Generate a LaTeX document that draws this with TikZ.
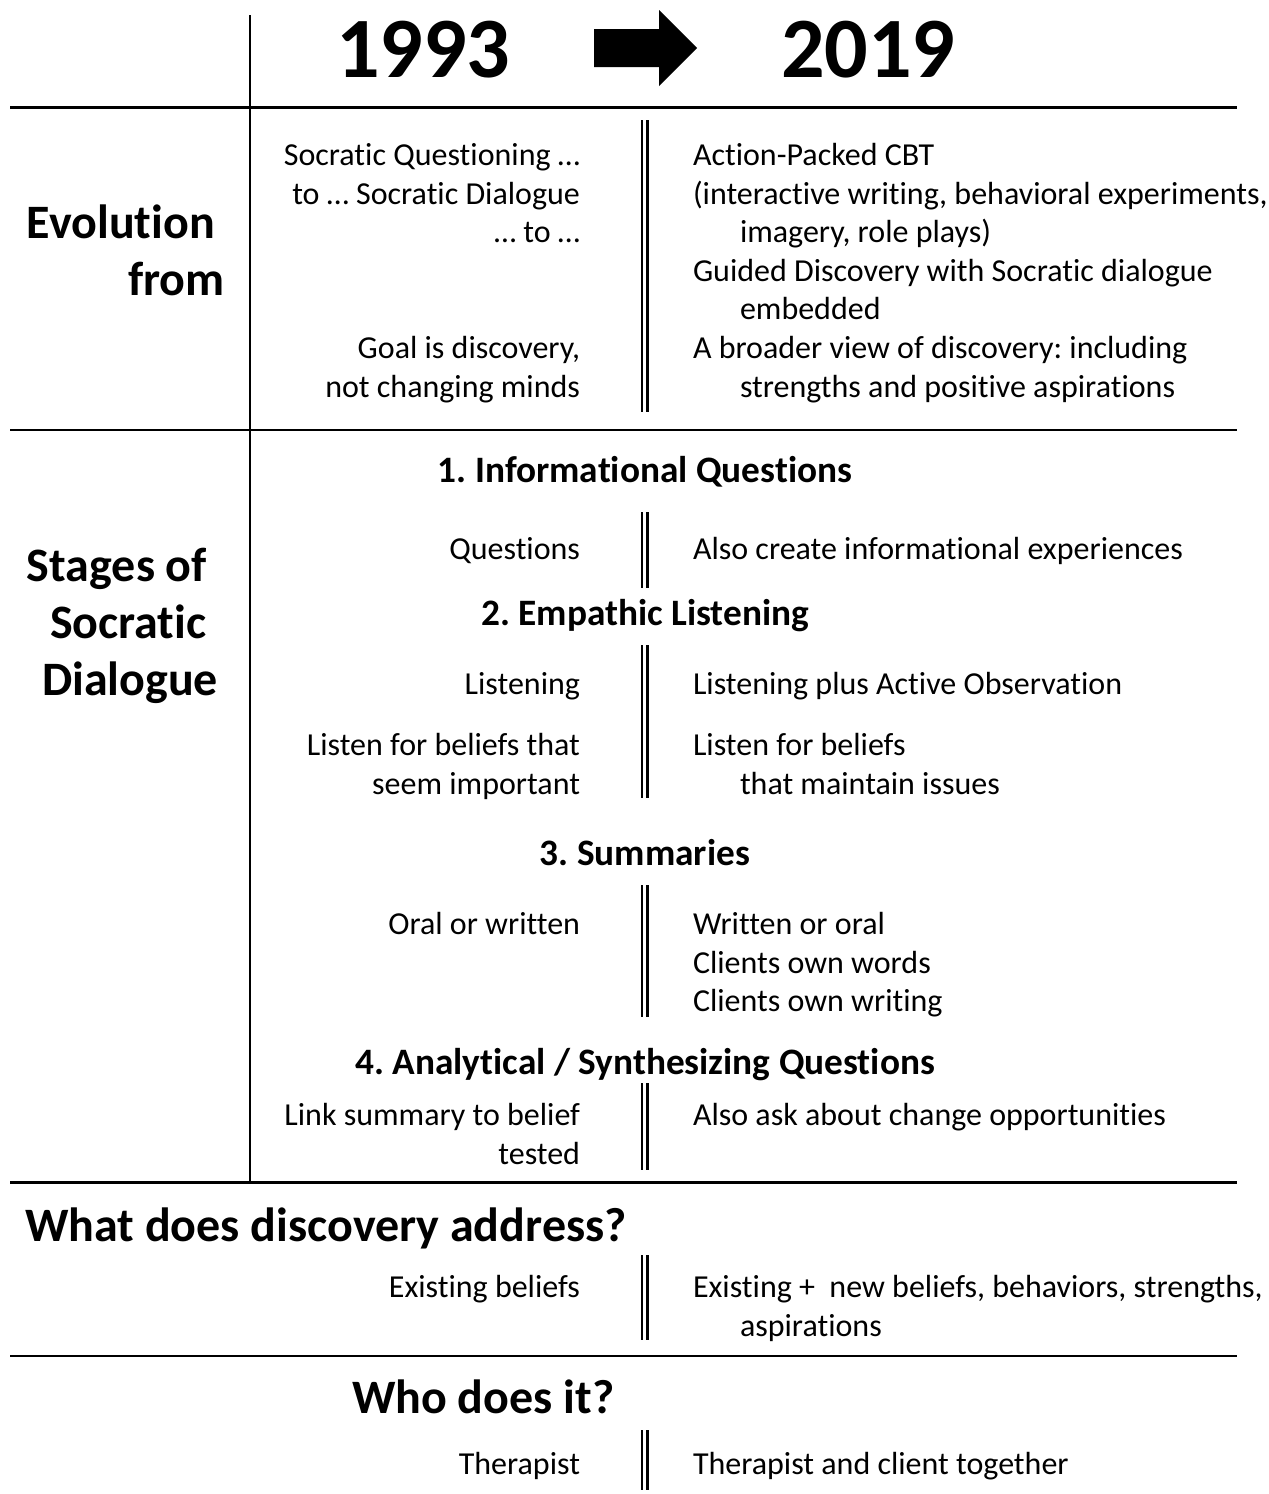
\documentclass[tikz,border=0pt]{standalone}
\usepackage{fontspec}
\setmainfont{Carlito}[Ligatures=NoCommon]
\begin{document}
\frenchspacing
\begin{tikzpicture}[x=1pt,y=-1pt,
  every node/.style={inner sep=0pt,outer sep=0pt},
  lt/.style={anchor=base east,font=\fontsize{32}{38}\selectfont},
  rt/.style={anchor=base west,font=\fontsize{32}{38}\selectfont},
  hd/.style={anchor=base,font=\fontsize{37.3}{42}\selectfont\bfseries},
  big/.style={anchor=base west,font=\fontsize{48}{54}\selectfont\bfseries},
  yr/.style={anchor=base west,font=\fontsize{86}{92}\selectfont\bfseries},
  rule/.style={line width=3pt},
  thin/.style={line width=2pt},
  vline/.style={line width=1.6pt},
  dbl/.style={line width=2.6pt}]
\useasboundingbox (0,0) rectangle (1269,1494);

% frame lines
\draw[vline] (250,15) -- (250,1182);
\draw[rule] (10,107) -- (1237,107);
\draw[thin] (10,430) -- (1237,430);
\draw[rule] (10,1182) -- (1237,1182);
\draw[thin] (10,1356) -- (1237,1356);

% header
\node[yr] (y1) at (336,77) {1993};
\node[yr] (y2) at (781,77) {2019};
\fill (594,29) -- (659,29) -- (659,10) -- (697,48) -- (659,86) -- (659,67) -- (594,67) -- cycle;

% double separators
\foreach \a/\b in {120/412, 512/588, 645/798, 885/1017, 1083/1170, 1255/1340, 1430/1490}{
  \draw[dbl] (642,\a) -- (642,\b);
  \draw[dbl] (647.5,\a) -- (647.5,\b);
}

% Evolution from
\node[big] (ev1) at (27,238) {Evolution};
\node[big] (ev2) at (128,295) {from};
\node[lt] (e1) at (580,165) {Socratic Questioning …};
\node[lt] (e2) at (580,204) {to … Socratic Dialogue};
\node[lt] (e3) at (580,242) {… to …};
\node[lt] (e4) at (580,358) {Goal is discovery,};
\node[lt] (e5) at (580,397) {not changing minds};
\node[rt] (f1) at (693,165) {Action-Packed CBT};
\node[rt] (f2) at (693,204) {(interactive writing, behavioral experiments,};
\node[rt] (f3) at (740,242) {imagery, role plays)};
\node[rt] (f4) at (693,281) {Guided Discovery with Socratic dialogue};
\node[rt] (f5) at (740,319) {embedded};
\node[rt] (f6) at (693,358) {A broader view of discovery: including};
\node[rt] (f7) at (740,397) {strengths and positive aspirations};

% Stages
\node[big] (st1) at (27,581) {Stages of};
\node[big] (st2) at (50,638) {Socratic};
\node[big] (st3) at (42,695) {Dialogue};

\node[hd] (h1) at (645,482) {1. Informational Questions};
\node[lt] (q1) at (580,559) {Questions};
\node[rt] (q2) at (693,559) {Also create informational experiences};

\node[hd] (h2) at (645,625) {2. Empathic Listening};
\node[lt] (l1) at (580,694) {Listening};
\node[rt] (l2) at (693,694) {Listening plus Active Observation};
\node[lt] (l3) at (580,755) {Listen for beliefs that};
\node[lt] (l4) at (580,794) {seem important};
\node[rt] (l5) at (693,755) {Listen for beliefs};
\node[rt] (l6) at (740,794) {that maintain issues};

\node[hd] (h3) at (645,865) {3. Summaries};
\node[lt] (s1) at (580,934) {Oral or written};
\node[rt] (s2) at (693,934) {Written or oral};
\node[rt] (s3) at (693,973) {Clients own words};
\node[rt] (s4) at (693,1011) {Clients own writing};

\node[hd] (h4) at (645,1074) {4. Analytical / Synthesizing Questions};
\node[lt] (a1) at (580,1125) {Link summary to belief};
\node[lt] (a2) at (580,1164) {tested};
\node[rt] (a3) at (693,1125) {Also ask about change opportunities};

% What does discovery address
\node[big] (w1) at (25,1241) {What does discovery address?};
\node[lt] (w2) at (580,1297) {Existing beliefs};
\node[rt] (w3) at (693,1297) {Existing +\ \ new beliefs, behaviors, strengths,};
\node[rt] (w4) at (740,1336) {aspirations};

% Who does it
\node[big] (o1) at (352,1413) {Who does it?};
\node[lt] (o2) at (580,1474) {Therapist};
\node[rt] (o3) at (693,1474) {Therapist and client together};
\end{tikzpicture}
\end{document}
